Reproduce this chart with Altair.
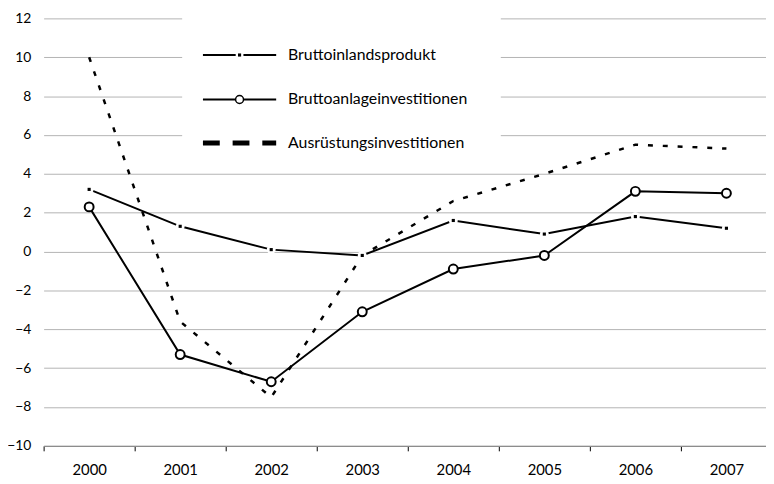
import altair as alt
import pandas as pd

# ---- data ----
years = [2000, 2001, 2002, 2003, 2004, 2005, 2006, 2007]
bip = [3.2, 1.3, 0.1, -0.2, 1.6, 0.9, 1.8, 1.2]            # Bruttoinlandsprodukt
anlage = [2.3, -5.3, -6.7, -3.1, -0.9, -0.2, 3.1, 3.0]     # Bruttoanlageinvestitionen
ausr = [10.0, -3.6, -7.5, -0.2, 2.6, 4.0, 5.5, 5.3]        # Ausrüstungsinvestitionen
series_names = ["Bruttoinlandsprodukt", "Bruttoanlageinvestitionen", "Ausrüstungsinvestitionen"]
y_ticks = list(range(-10, 13, 2))
x_ticks = [y - 0.5 for y in years]

FONT = "Lato"
W, H = 730, 432
BAND = 92

df = pd.DataFrame({"year": years, "bip": bip, "anlage": anlage, "ausr": ausr})

x_scale = alt.Scale(domain=[1999.5, 1999.5 + W / BAND], nice=False, zero=False)
y_scale = alt.Scale(domain=[-10, 12], nice=False, zero=False)

x_axis = alt.Axis(values=x_ticks, labelExpr="format(datum.value + 0.5, 'd')",
                  labelOffset=BAND / 2, tickSize=5, tickColor="#000", tickWidth=1,
                  domainColor="#8c8c8c", domainWidth=1.5, grid=False, title=None,
                  labelFont=FONT, labelFontSize=15, labelColor="#000", labelPadding=12,
                  labelFlush=False, labelOverlap=False, labelBound=False)
y_axis = alt.Axis(values=y_ticks, grid=True, gridColor="#b3b3b3", gridWidth=1,
                  domain=False, ticks=False, labelPadding=13, title=None,
                  labelFont=FONT, labelFontSize=14, labelColor="#000")

base = alt.Chart(df)
X = alt.X("year:Q", scale=x_scale, axis=x_axis, title=None)


def Y(field):
    return alt.Y(f"{field}:Q", scale=y_scale, axis=y_axis, title=None)


ausr_line = base.mark_line(color="#000", strokeWidth=2.5, strokeDash=[5, 10]).encode(x=X, y=Y("ausr"))
bip_line = base.mark_line(color="#000", strokeWidth=2).encode(x=X, y=Y("bip"))
bip_halo = base.mark_point(shape="circle", filled=True, color="#fff", size=81, opacity=1).encode(x=X, y=Y("bip"))
bip_dot = base.mark_point(shape="square", filled=True, color="#000", size=10, opacity=1).encode(x=X, y=Y("bip"))
anl_line = base.mark_line(color="#000", strokeWidth=2).encode(x=X, y=Y("anlage"))
anl_pts = base.mark_point(shape="circle", filled=False, fill="#fff", stroke="#000",
                          strokeWidth=2, size=81, opacity=1).encode(x=X, y=Y("anlage"))

# ---- manual legend (Excel style) ----
def one(name):
    return pd.DataFrame({"label": [name]})

LX1, LX2, LMID, LTX = 161, 235, 198, 247
rows = [37, 82, 126]

legend_box = alt.Chart(one("")).mark_rect(fill="#fff").encode(
    x=alt.value(140), x2=alt.value(462), y=alt.value(-6), y2=alt.value(138))

leg = [legend_box]
# row 1: BIP
leg.append(alt.Chart(one(series_names[0])).mark_rule(color="#000", strokeWidth=2).encode(
    x=alt.value(LX1), x2=alt.value(LX2), y=alt.value(rows[0])))
leg.append(alt.Chart(one(series_names[0])).mark_point(shape="circle", filled=True, color="#fff", size=64, opacity=1).encode(
    x=alt.value(LMID), y=alt.value(rows[0])))
leg.append(alt.Chart(one(series_names[0])).mark_point(shape="square", filled=True, color="#000", size=10, opacity=1).encode(
    x=alt.value(LMID), y=alt.value(rows[0])))
# row 2: Anlage
leg.append(alt.Chart(one(series_names[1])).mark_rule(color="#000", strokeWidth=2).encode(
    x=alt.value(LX1), x2=alt.value(LX2), y=alt.value(rows[1])))
leg.append(alt.Chart(one(series_names[1])).mark_point(shape="circle", filled=False, fill="#fff", stroke="#000",
                                                      strokeWidth=1.5, size=64, opacity=1).encode(
    x=alt.value(LMID), y=alt.value(rows[1])))
# row 3: Ausrüstung
leg.append(alt.Chart(one(series_names[2])).mark_rule(color="#000", strokeWidth=5, strokeDash=[17, 13]).encode(
    x=alt.value(LX1), x2=alt.value(LX2), y=alt.value(rows[2])))
for i, name in enumerate(series_names):
    leg.append(alt.Chart(one(name)).mark_text(align="left", baseline="middle", font=FONT,
                                              fontSize=16, color="#000").encode(
        x=alt.value(LTX), y=alt.value(rows[i]), text=alt.Text("label:N")))

chart = alt.layer(ausr_line, *leg, bip_line, bip_halo, bip_dot, anl_line, anl_pts).properties(
    width=W, height=H,
    padding={"left": 36, "top": 8, "right": 0, "bottom": 34},
    autosize=alt.AutoSizeParams(type="none"),
    background="#ffffff",
).configure_view(stroke=None)

chart.save("out.html", embed_options={"renderer": "svg", "actions": False})
